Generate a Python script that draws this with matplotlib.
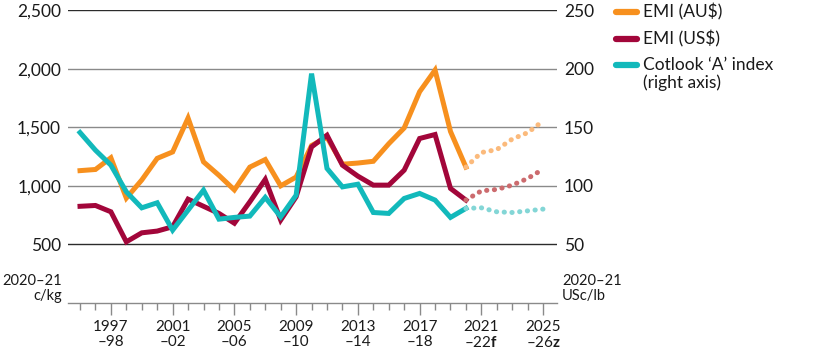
import matplotlib
matplotlib.use("Agg")
import matplotlib.pyplot as plt
from matplotlib.lines import Line2D
import numpy as np

plt.rcParams['font.family'] = ['Lato', 'DejaVu Sans']
plt.rcParams['mathtext.fontset'] = 'custom'
plt.rcParams['mathtext.bf'] = 'Lato:bold'
plt.rcParams['mathtext.rm'] = 'Lato'

# financial year start (1995 = 1995-96)
years = list(range(1995, 2026))
last_actual = 2020

# EMI in AU c/kg (2020-21 dollars)
emi_au = [1130, 1140, 1240, 895, 1050, 1235, 1290, 1580, 1205, 1090, 965, 1160,
          1225, 1000, 1075, 1345, 1415, 1185, 1195, 1210, 1360, 1495, 1805, 1990,
          1465, 1160, 1285, 1310, 1400, 1455, 1555]
# EMI in US c/kg
emi_us = [825, 832, 778, 521, 598, 613, 650, 886, 825, 764, 680, 863,
          1055, 707, 906, 1333, 1433, 1177, 1083, 1006, 1006, 1134, 1405, 1439,
          978, 878, 957, 969, 1006, 1063, 1143]
# Cotlook 'A' index, USc/lb (right axis)
cotlook = [145.6, 130.5, 117.7, 94.9, 81.2, 85.5, 62.1, 79.2, 96.3, 71.5, 73.0, 74.1,
           90.1, 73.5, 92.0, 196.0, 114.9, 99.1, 101.4, 77.2, 76.4, 89.2, 93.5, 87.8,
           73.0, 80.7, 81.2, 77.8, 77.2, 78.6, 80.1]

labels = ['EMI (AU$)', 'EMI (US$)', 'Cotlook \u2018A\u2019 index\n(right axis)']
left_ticks = [500, 1000, 1500, 2000, 2500]
right_ticks = [50, 100, 150, 200, 250]
label_years = [1997, 2001, 2005, 2009, 2013, 2017, 2021, 2025]
year_labels = ['1997\n\u201398', '2001\n\u201302', '2005\n\u201306', '2009\n\u201310',
               '2013\n\u201314', '2017\n\u201318', '2021\n\u201322$\\mathbf{f}$',
               '2025\n\u201326$\\mathbf{z}$']

c_au, c_au_f = '#F7901E', '#FBBA7C'
c_us, c_us_f = '#A2063A', '#CC6B6E'
c_ct, c_ct_f = '#12B9BB', '#83D6D6'

fig = plt.figure(figsize=(8.16, 3.57), dpi=100)
ax = fig.add_axes([0.0833, 0.152, 0.5993, 0.8186])
ax2 = ax.twinx()

x = np.array(years)
k = years.index(last_actual)
lw = 3.6
dots = (0, (0.05, 1.5))


def draw(a, y, c, cf):
    y = np.array(y)
    a.plot(x[:k + 1], y[:k + 1], color=c, lw=lw, solid_joinstyle='miter', zorder=3)
    a.plot(x[k:], y[k:], color=cf, lw=lw, linestyle=dots, dash_capstyle='round', zorder=3)


for v in left_ticks:
    dark = v in (left_ticks[0], left_ticks[-1])
    ax.axhline(v, color='#2b2b2b' if dark else '#8a8a8a', lw=1.0, zorder=1)

draw(ax, emi_au, c_au, c_au_f)
draw(ax, emi_us, c_us, c_us_f)
draw(ax2, cotlook, c_ct, c_ct_f)

ax.set_xlim(1994.22, 2025.9)
ax.set_ylim(0, 2500)
ax2.set_ylim(0, 250)

ax.set_yticks(left_ticks)
ax.set_yticklabels([f'{v:,}' for v in left_ticks])
ax2.set_yticks(right_ticks)
ax.tick_params(axis='y', length=0, pad=5, labelsize=12.5, colors='#1a1a1a')
ax2.tick_params(axis='y', length=0, pad=5, labelsize=12.5, colors='#1a1a1a')

ax.set_xticks(label_years)
ax.set_xticklabels(year_labels)
ax.set_xticks(years, minor=True)
ax.tick_params(axis='x', which='major', length=8.5, width=1.0, color='#8a8a8a',
               pad=4, labelsize=11, labelcolor='#1a1a1a')
ax.tick_params(axis='x', which='minor', length=5, width=1.0, color='#8a8a8a')
for lbl in ax.get_xticklabels():
    lbl.set_linespacing(1.1)

for a in (ax, ax2):
    for s in ('top', 'left', 'right'):
        a.spines[s].set_visible(False)
    a.spines['bottom'].set_color('#8a8a8a')
    a.spines['bottom'].set_linewidth(1.0)
ax2.spines['bottom'].set_visible(False)

ax.text(-0.012, 0.0, '2020\u201321\nc/kg', transform=ax.transAxes, ha='right', va='bottom',
        fontsize=10.5, color='#1a1a1a', linespacing=1.05)
ax.text(1.01, 0.0, '2020\u201321\nUSc/lb', transform=ax.transAxes, ha='left', va='bottom',
        fontsize=10.5, color='#1a1a1a', linespacing=1.05)

# legend drawn by hand
colors = [c_au, c_us, c_ct]
rows_y = [345, 318, 292]
for lab, c, yy in zip(labels, colors, rows_y):
    fig.add_artist(Line2D([616 / 816, 637 / 816], [yy / 357, yy / 357], color=c, lw=4.5,
                          solid_capstyle='round', transform=fig.transFigure))
    fig.text(643 / 816, (yy + 8.5) / 357, lab, ha='left', va='top', fontsize=12.5,
             color='#1a1a1a', linespacing=1.15)

fig.savefig('out.png', dpi=100)
